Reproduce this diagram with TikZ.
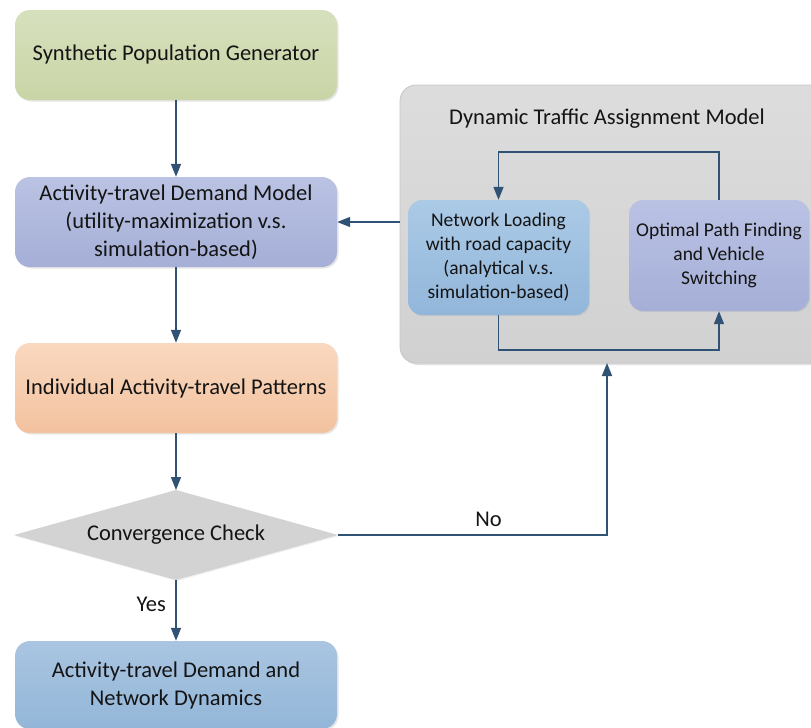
\documentclass[tikz,border=0pt]{standalone}
\usepackage{fontspec}
\setmainfont{Carlito}
\usetikzlibrary{arrows.meta,shadows}
\definecolor{arrowc}{HTML}{2F5275}
\definecolor{txt}{HTML}{141414}
\definecolor{greenT}{HTML}{D7E0BD}
\definecolor{greenB}{HTML}{C9D5A6}
\definecolor{lavT}{HTML}{BAC3E3}
\definecolor{lavB}{HTML}{A5AFD7}
\definecolor{orT}{HTML}{F9D8BF}
\definecolor{orB}{HTML}{F3C29F}
\definecolor{blT}{HTML}{A9C5E1}
\definecolor{blB}{HTML}{93B6D8}
\definecolor{nlT}{HTML}{ABCAE6}
\definecolor{nlB}{HTML}{92B6DA}
\definecolor{opT}{HTML}{BAC2E4}
\definecolor{opB}{HTML}{A5AFD7}
\definecolor{diamc}{HTML}{D3D3D3}
\tikzset{
  box/.style={rectangle, rounded corners=15pt, minimum width=322pt, minimum height=90pt,
    align=center, text=txt, font=\fontsize{22.5}{28}\selectfont, inner sep=2pt,
    drop shadow={shadow xshift=1.5pt, shadow yshift=-1.5pt, opacity=0.25, fill=black!40}},
  inbox/.style={rectangle, rounded corners=14pt, align=center, text=txt,
    font=\fontsize{19.5}{24}\selectfont, inner sep=2pt,
    drop shadow={shadow xshift=1.2pt, shadow yshift=-1.2pt, opacity=0.2, fill=black!40}},
  flow/.style={draw=arrowc, line width=1.6pt, -{Triangle[width=10pt,length=13pt]}},
  lbl/.style={text=txt, font=\fontsize{22.5}{27}\selectfont}
}
\begin{document}
\begin{tikzpicture}[x=1pt,y=-1pt]
\useasboundingbox (0,0) rectangle (811,728);

% Dynamic traffic assignment container
\node[rectangle, rounded corners=16pt, minimum width=425pt, minimum height=278pt,
  top color=gray!27, bottom color=gray!36, draw=gray!45, line width=0.8pt,
  drop shadow={shadow xshift=2pt, shadow yshift=-2pt, opacity=0.3, fill=black!40}]
  (dta) at (612.5,224) {};
\node[lbl] (dtatitle) at (607,119) {Dynamic Traffic Assignment Model};
\coordinate (dtain) at (607,363);

% Main flow boxes
\node[box, top color=greenT, bottom color=greenB] (spg) at (176,55)
  {Synthetic Population Generator};
\node[box, top color=lavT, bottom color=lavB] (atdm) at (176,222)
  {Activity-travel Demand Model\\(utility-maximization v.s.\\simulation-based)};
\node[box, top color=orT, bottom color=orB] (iatp) at (176,388)
  {Individual Activity-travel Patterns};
\node[box, minimum height=88pt, top color=blT, bottom color=blB] (res) at (176,685)
  {Activity-travel Demand and\\Network Dynamics};

% Convergence check diamond
\coordinate (dt) at (176,490);
\coordinate (db) at (176,580);
\coordinate (dl) at (14,535);
\coordinate (dr) at (338,535);
\fill[diamc, drop shadow={shadow xshift=1pt, shadow yshift=-1pt, opacity=0.15, fill=black!40}]
  (dt) -- (dr) -- (db) -- (dl) -- cycle;
\node[lbl] (conv) at (176,535) {Convergence Check};

% Inner DTA boxes
\node[inbox, minimum width=181pt, minimum height=115pt, top color=nlT, bottom color=nlB] (nl) at (498.5,257.5)
  {Network Loading\\with road capacity\\(analytical v.s.\\simulation-based)};
\node[inbox, minimum width=180pt, minimum height=111pt, top color=opT, bottom color=opB] (op) at (719,255.5)
  {Optimal Path Finding\\and Vehicle\\Switching};

% Connectors
\draw[flow] (spg.south) -- (atdm.north);
\draw[flow] (atdm.south) -- (iatp.north);
\draw[flow] (iatp.south) -- (dt);
\draw[flow] (db) -- node[lbl, left=6pt, pos=0.4] (yes) {Yes} (res.north);
\draw[flow] (dr) -| node[lbl, pos=0.28, above=4pt] (no) {No} (dtain);
\draw[flow] (atdm.east -| dta.west) -- (atdm.east);
\draw[flow] (op.north) -- ++(0,-48) -| (nl.north);
\draw[flow] (nl.south) -- ++(0,35) -| (op.south);
\end{tikzpicture}
\end{document}
